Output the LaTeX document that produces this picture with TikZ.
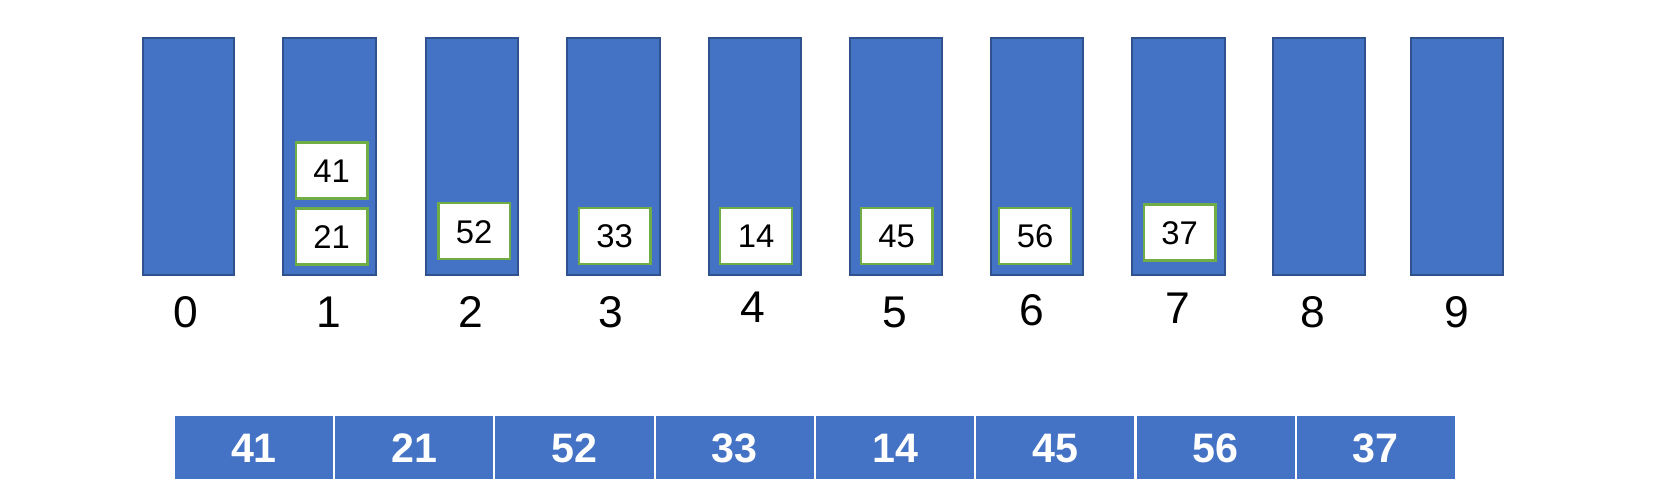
\documentclass[tikz,border=0pt]{standalone}
\usepackage{fontspec}
\setmainfont{Liberation Sans}
\definecolor{bfill}{HTML}{4472C4}
\definecolor{bdraw}{HTML}{2F528F}
\definecolor{gdraw}{HTML}{70AD47}
\begin{document}
\begin{tikzpicture}[x=0.528pt,y=-0.528pt,
  bucket/.style={draw=bdraw,fill=bfill,line width=1pt},
  item/.style={draw=gdraw,fill=white,line width=1.2pt,inner sep=0pt,
    minimum width=35.9pt,minimum height=28pt,text height=11.8pt,text depth=0pt,
    font=\fontsize{16.4}{19}\selectfont},
  idx/.style={inner sep=0pt,text height=16pt,text depth=0pt,font=\fontsize{22.2}{25}\selectfont},
  cell/.style={fill=bfill,draw=white,line width=1pt,inner sep=0pt,minimum width=80.1pt,minimum height=32.7pt,
    text height=14.8pt,text depth=0pt,
    font=\bfseries\fontsize{20.6}{23}\selectfont,text=white}]
\useasboundingbox (0,0) rectangle (1568,471.6);
% buckets
\foreach \i/\l/\r in {0/135/222,1/268/356,2/403/490,3/537/625,4/671/758,5/805/892,6/938/1025,7/1072/1160,8/1205/1292,9/1336/1423}{
  \path[bucket] (\l,36) rectangle (\r,260) coordinate (b\i);
}
% index labels
\node[idx] (l0) at (176,295) {0};
\node[idx] (l1) at (311,295) {1};
\node[idx] (l2) at (446,295) {2};
\node[idx] (l3) at (578,295) {3};
\node[idx] (l4) at (713,290) {4};
\node[idx] (l5) at (847,295) {5};
\node[idx] (l6) at (977,293) {6};
\node[idx] (l7) at (1115,291) {7};
\node[idx] (l8) at (1243,295) {8};
\node[idx] (l9) at (1379,295) {9};
% items
\node[item] (i41) at (314,161.5) {41};
\node[item] (i21) at (314,224) {21};
\node[item] (i52) at (449,219) {52};
\node[item] (i33) at (582,223.5) {33};
\node[item] (i14) at (716,223.5) {14};
\node[item] (i45) at (849,223.5) {45};
\node[item] (i56) at (980,223.5) {56};
\node[item] (i37) at (1117,220) {37};
% array
\foreach \v [count=\k from 0] in {41,21,52,33,14,45,56,37}{
  \node[cell] (c\k) at ({240.5+151.75*\k},424) {\v};
}
\end{tikzpicture}
\end{document}
